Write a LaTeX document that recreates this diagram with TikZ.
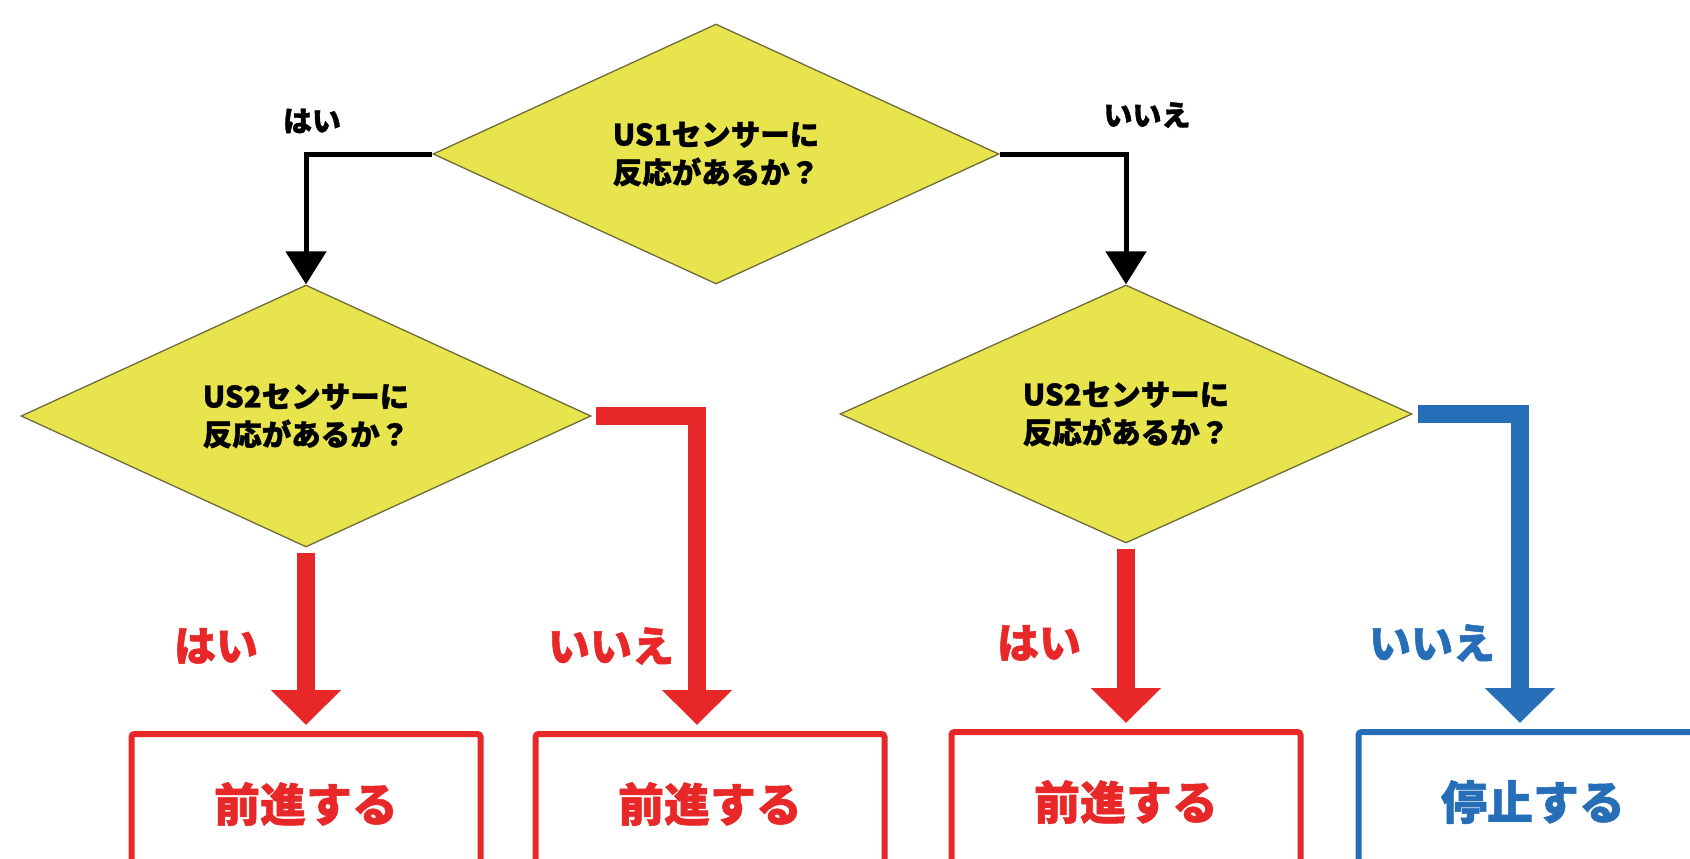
\documentclass[tikz,border=0pt]{standalone}
\usepackage{fontspec}
\setmainfont{Noto Sans CJK JP}[BoldFeatures={FakeBold=1.2}]
\usetikzlibrary{shapes.geometric,arrows.meta}
\definecolor{dyellow}{RGB}{232,228,78}
\definecolor{dborder}{RGB}{110,108,58}
\definecolor{fred}{RGB}{232,40,40}
\definecolor{fblue}{RGB}{38,110,184}
\tikzset{
  decision/.style={shape=diamond, aspect=2.2, draw=dborder, line width=1.3pt, fill=dyellow,
    inner sep=0pt, align=center, font=\bfseries\fontsize{29.5}{38}\selectfont},
  resultbox/.style={draw=#1, text=#1, line width=6pt, rounded corners=3pt,
    minimum width=349pt, minimum height=140pt, inner sep=0pt,
    font=\bfseries\fontsize{46}{46}\selectfont},
  blkarrow/.style={draw=black, line width=5pt, -{Triangle[width=40pt,length=33pt]}},
  fatarrow/.style={draw=#1, line width=18pt, -{Triangle[width=68pt,length=35pt]}},
  smalllabel/.style={font=\bfseries\fontsize{29}{29}\selectfont, text=black},
  biglabel/.style={font=\bfseries\fontsize{42}{42}\selectfont, text=#1},
}
\begin{document}
\begin{tikzpicture}[x=1pt,y=-1pt]
\clip (0,0) rectangle (1690,859);
\useasboundingbox (0,0) rectangle (1690,859);

% decisions
\node[decision, minimum width=566pt, minimum height=260pt] (d0) at (716,154) {US1センサーに\\反応があるか？};
\node[decision, minimum width=570pt, minimum height=262pt] (d1) at (306,416) {US2センサーに\\反応があるか？};
\node[decision, minimum width=572pt, minimum height=258pt] (d2) at (1126,414) {US2センサーに\\反応があるか？};

% results
\node[resultbox=fred] (b1) at (306,804) {前進する};
\node[resultbox=fred] (b2) at (710,804) {前進する};
\node[resultbox=fred] (b3) at (1126,802) {前進する};
\node[resultbox=fblue] (b4) at (1533,802) {停止する};

% top-level connectors
\draw[blkarrow] (d0.west) -| (d1.north);
\draw[blkarrow] (d0.east) -| (d2.north);

% second-level connectors
\draw[fatarrow=fred, shorten <=5pt, shorten >=6pt] (d1.south) -- (b1.north);
\draw[fatarrow=fred, shorten <=4pt, shorten >=6pt] (d1.east) -| ([xshift=-13pt]b2.north);
\draw[fatarrow=fred, shorten <=5pt, shorten >=6pt] (d2.south) -- (b3.north);
\draw[fatarrow=fblue, shorten <=5pt, shorten >=6pt] (d2.east) -| ([xshift=-13pt]b4.north);

% labels
\node[smalllabel] (l0) at (312,121) {はい};
\node[smalllabel] (l1) at (1147,115) {いいえ};
\node[biglabel=fred] (l2) at (216,646) {はい};
\node[biglabel=fred] (l3) at (611,646) {いいえ};
\node[biglabel=fred] (l4) at (1039,643) {はい};
\node[biglabel=fblue] (l5) at (1432,643) {いいえ};
\end{tikzpicture}
\end{document}
